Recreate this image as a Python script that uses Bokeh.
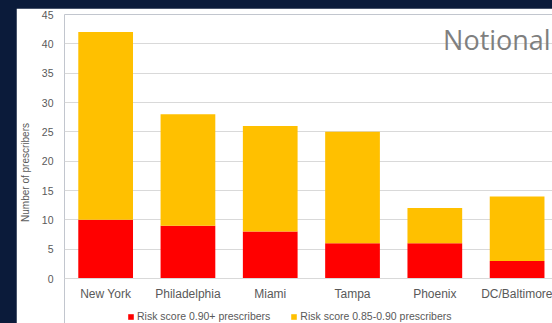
from bokeh.plotting import figure
from bokeh.models import ColumnDataSource, Range1d, Legend, LegendItem, Label, FixedTicker, InlineStyleSheet
from bokeh.embed import file_html
from bokeh.resources import INLINE

cities = ["New York", "Philadelphia", "Miami", "Tampa", "Phoenix", "DC/Baltimore"]
high_risk = [10, 9, 8, 6, 6, 3]          # Risk score 0.90+
mid_risk = [32, 19, 18, 19, 6, 11]       # Risk score 0.85-0.90
y_ticks = [0, 5, 10, 15, 20, 25, 30, 35, 40, 45]

RED = "#FF0000"
YELLOW = "#FFC000"
GRAY_TXT = "#595959"
GRID = "#D9D9D9"
NAVY = "#0B1B3A"
FONT = "Liberation Sans"

xs = list(range(len(cities)))
top_mid = [h + m for h, m in zip(high_risk, mid_risk)]
src = ColumnDataSource(dict(x=xs, high=high_risk, mid_top=top_mid, base=[0] * len(xs)))

css = InlineStyleSheet(css=f":host {{ box-sizing: content-box !important; border-left: 16px solid {NAVY}; border-top: 8px solid {NAVY}; overflow: visible; }}")

# frame extends below the zero line so that the legend (inside the frame) is not clipped;
# the x axis is pinned to y = 0
p = figure(width=536, height=344, output_backend="svg", toolbar_location=None,
           x_range=Range1d(-0.5, 5.43), y_range=Range1d(-8.86, 45),
           min_border_left=46, min_border_top=6, min_border_right=16, min_border_bottom=30,
           stylesheets=[css])
p.background_fill_color = "white"
p.border_fill_color = "white"
p.outline_line_color = None

r_high = p.vbar(x="x", width=0.665, bottom="base", top="high", source=src,
                fill_color=RED, line_color=None)
r_mid = p.vbar(x="x", width=0.665, bottom="high", top="mid_top", source=src,
               fill_color=YELLOW, line_color=None)

# axes
p.xaxis.fixed_location = 0
p.xaxis.ticker = FixedTicker(ticks=xs)
p.xaxis.major_label_overrides = {i: c for i, c in enumerate(cities)}
p.xaxis.axis_line_color = GRID
p.xaxis.major_tick_line_color = None
p.xaxis.minor_tick_line_color = None
p.xaxis.major_tick_out = 0
p.xaxis.major_tick_in = 0
p.xaxis.major_label_text_font = FONT
p.xaxis.major_label_text_font_size = "12px"
p.xaxis.major_label_text_color = GRAY_TXT
p.xaxis.major_label_standoff = 8

p.yaxis.ticker = FixedTicker(ticks=y_ticks)
p.yaxis.axis_line_color = None
p.yaxis.major_tick_line_color = None
p.yaxis.minor_tick_line_color = None
p.yaxis.major_tick_out = 0
p.yaxis.major_tick_in = 0
p.yaxis.major_label_text_font = FONT
p.yaxis.major_label_text_font_size = "10.5px"
p.yaxis.major_label_text_color = GRAY_TXT
p.yaxis.major_label_standoff = 11
p.yaxis.axis_label = "Number of prescribers"
p.yaxis.axis_label_text_font = FONT
p.yaxis.axis_label_text_font_size = "10px"
p.yaxis.axis_label_text_font_style = "normal"
p.yaxis.axis_label_text_color = GRAY_TXT
p.yaxis.axis_label_standoff = 8

p.xgrid.grid_line_color = None
p.ygrid.grid_line_color = GRID
p.ygrid.grid_line_width = 1

legend = Legend(items=[LegendItem(label="Risk score 0.90+ prescribers", renderers=[r_high]),
                       LegendItem(label="Risk score 0.85-0.90 prescribers", renderers=[r_mid])],
                orientation="horizontal", location=(63, 8),
                label_text_font=FONT, label_text_font_size="10.5px", label_text_color=GRAY_TXT,
                glyph_width=7, glyph_height=7, spacing=20, padding=2, margin=0,
                label_standoff=3, border_line_color=None, background_fill_alpha=0)
p.add_layout(legend)

notional = Label(x=5.408, y=40.7, text="Notional", text_align="right", text_baseline="alphabetic",
                 text_font="Open Sans", text_font_size="27px", text_color="#7F7F7F")
p.add_layout(notional)

html = file_html(p, INLINE)
html = html.replace("</head>", f"<style>html,body{{margin:0;padding:0;overflow:hidden;background:{NAVY};}}</style></head>", 1)
open("out.html", "w").write(html)
